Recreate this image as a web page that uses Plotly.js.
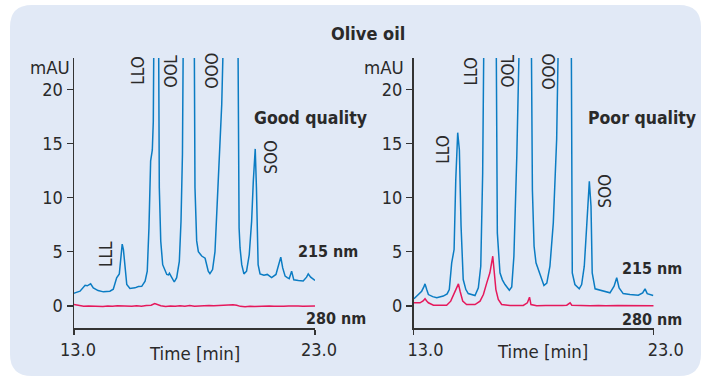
<!DOCTYPE html>
<html><head><meta charset="utf-8">
<script src="https://cdn.plot.ly/plotly-3.0.1.min.js"></script>
<style>html,body{margin:0;padding:0;background:#fff;}#chart{width:702px;height:377px;}</style>
</head><body><div id="chart"></div>
<script>
// ---- Data ----
const goodTime215 = [13.0,13.04,13.25,13.4,13.46,13.55,13.62,13.69,13.8,14.0,14.22,14.49,14.63,14.72,14.77,14.88,14.95,15.0,15.05,15.09,15.15,15.19,15.32,15.53,15.67,15.81,15.95,16.04,16.11,16.18,16.25,16.29,16.33,16.42,16.5,16.54,16.6,16.68,16.85,16.92,16.96,17.05,17.16,17.26,17.37,17.44,17.5,17.55,17.75,17.98,18.02,18.09,18.16,18.3,18.44,18.57,18.64,18.75,18.85,18.94,19.03,19.13,19.2,19.5,19.79,19.85,19.89,19.96,20.05,20.16,20.27,20.37,20.44,20.52,20.57,20.64,20.72,20.88,21.02,21.2,21.38,21.49,21.58,21.66,21.76,21.85,21.93,22.03,22.12,22.31,22.51,22.65,22.72,22.82,23.0];
const good215 = [1.15,1.2,1.35,1.75,1.9,1.85,1.95,2.03,1.66,1.41,1.29,1.35,1.53,2.1,2.59,2.95,4.5,5.7,5.2,4.1,2.8,1.97,1.6,1.66,1.78,1.8,2.27,3.2,7.2,13.4,14.4,17,30,45,30,10.9,5.97,3.8,2.9,2.85,3.0,2.6,2.2,2.6,4.1,7.8,14,30,50,30,10.9,6.0,5.0,4.6,4.4,3.2,2.98,3.35,5.0,9.35,14,18.6,25,50,30,7.2,5.35,3.8,2.95,3.2,4.7,7.8,11.5,14.5,10.9,3.8,2.95,2.83,2.9,2.6,2.9,3.66,4.5,3.5,2.74,2.6,2.5,3.2,2.4,2.34,2.3,2.65,2.95,2.65,2.34];

const goodTime280 = [13.0,13.2,13.4,13.6,13.8,14.0,14.2,14.4,14.6,14.8,15.0,15.2,15.4,15.6,15.8,16.0,16.2,16.35,16.45,16.6,16.8,17.0,17.2,17.4,17.6,17.8,18.0,18.2,18.4,18.6,18.8,19.0,19.2,19.4,19.6,19.75,19.9,20.1,20.3,20.5,20.7,20.9,21.1,21.3,21.5,21.7,21.9,22.1,22.3,22.5,22.7,22.9,23.0];
const good280 = [0.12,0.02,-0.05,-0.02,-0.06,-0.03,-0.07,-0.02,-0.05,0.0,-0.04,-0.02,-0.05,0.0,-0.03,0.02,0.05,0.2,0.12,0.0,-0.06,-0.02,-0.05,0.0,-0.04,0.02,-0.03,0.0,-0.02,0.02,0.0,0.03,0.02,0.05,0.1,0.05,-0.05,-0.08,-0.03,-0.06,-0.02,-0.04,-0.01,-0.03,0.0,-0.04,-0.02,-0.05,-0.02,-0.04,-0.01,-0.03,-0.02];

const poorTime215 = [13.02,13.2,13.34,13.42,13.48,13.55,13.62,13.8,13.97,14.24,14.4,14.49,14.59,14.69,14.76,14.84,14.91,14.98,15.07,15.18,15.28,15.56,15.7,15.8,15.88,15.95,16.2,16.43,16.49,16.6,16.7,16.81,16.99,17.09,17.18,17.3,17.39,17.65,17.89,17.95,18.02,18.1,18.27,18.43,18.55,18.68,18.82,18.96,19.07,19.3,19.56,19.61,19.72,19.9,20.0,20.11,20.21,20.32,20.39,20.44,20.56,20.9,21.18,21.35,21.46,21.56,21.73,22.01,22.36,22.54,22.64,22.73,22.98];
const poor215 = [0.65,1.0,1.35,1.7,2.03,1.5,1.04,0.85,0.74,0.9,1.1,1.5,3.97,5.2,11.7,16.0,14.4,7.35,2.43,1.5,1.13,0.95,1.66,3.66,12.3,30,50,30,6.74,3.05,2.4,1.97,1.44,1.75,4.58,13.8,30,50,30,10.7,5.5,3.97,2.89,1.87,2.1,3.66,7.66,15.4,30,50,30,3.05,1.97,1.57,1.97,3.66,7.35,11.5,9.2,3.05,1.57,1.35,1.2,1.81,2.59,1.66,1.13,1.04,0.98,1.2,1.57,1.13,0.95];

const poorTime280 = [13.02,13.27,13.4,13.48,13.55,13.62,13.83,14.1,14.38,14.55,14.66,14.76,14.87,14.94,15.05,15.21,15.56,15.77,15.91,16.05,16.18,16.3,16.36,16.43,16.53,16.67,17.02,17.3,17.57,17.74,17.83,17.89,18.13,18.5,18.96,19.2,19.38,19.52,19.59,19.9,20.35,20.7,21.0,21.5,22.0,22.5,23.0];
const poor280 = [0.28,0.28,0.45,0.65,0.45,0.28,0.06,0.05,0.06,0.43,1.04,1.57,2.03,1.35,0.43,0.12,0.12,0.43,1.04,2.12,3.05,4.58,3.35,1.5,0.58,0.12,0.03,0.03,0.03,0.28,0.8,0.12,0.0,0.02,0.0,0.03,0.06,0.28,0.06,0.02,0.0,0.03,0.0,0.02,0.0,0.01,0.0];

const yTicks = [0,5,10,15,20];
const xTicks = [13,23];
const xTickText = ['13.0','23.0'];
const goodPeaks = {names:['LLL','LLO','OOL','OOO','SOO'], t:[14.31,15.68,17.05,18.75,21.17], v:[4.74,21.68,21.68,21.68,13.74]};
const poorPeaks = {names:['LLO','LLO','OOL','OOO','SOO'], t:[14.23,15.41,16.95,18.66,20.95], v:[14.43,21.68,21.68,21.68,10.65]};

// ---- Styling ----
const W = 702, H = 377;
const FONT = 'DejaVu Sans Condensed, DejaVu Sans, sans-serif';
const TXT = '#2a2a2a';
const BLUE = '#0b7cc3', RED = '#e5195c', BG = '#e1e9f6';
const px = x => x / W, py = y => 1 - y / H;

const traces = [
  {x: goodTime215, y: good215, xaxis:'x', yaxis:'y', mode:'lines', line:{color:BLUE, width:1.5}, hoverinfo:'skip'},
  {x: goodTime280, y: good280, xaxis:'x', yaxis:'y', mode:'lines', line:{color:RED, width:1.5}, hoverinfo:'skip'},
  {x: poorTime215, y: poor215, xaxis:'x2', yaxis:'y2', mode:'lines', line:{color:BLUE, width:1.5}, hoverinfo:'skip'},
  {x: poorTime280, y: poor280, xaxis:'x2', yaxis:'y2', mode:'lines', line:{color:RED, width:1.5}, hoverinfo:'skip'}
];

const yRange = [-2.05, 22.9];
const xAx = (dom, shift) => ({domain: dom, range:[13,23], showgrid:false, zeroline:false, showline:true,
  linecolor:'#333', linewidth:1.5, ticks:'outside', ticklen:5, tickwidth:1.5, tickcolor:'#333',
  tickvals:xTicks, ticktext:xTickText, tickfont:{family:FONT, size:18, color:TXT},
  ticklabelshift: shift, ticklabelstandoff: 0, fixedrange:true});
const yAx = (anchor) => ({domain:[py(328), py(58)], range:yRange, anchor: anchor, showgrid:false, zeroline:false,
  showline:true, linecolor:'#333', linewidth:1.5, ticks:'outside', ticklen:6, tickwidth:1.5, tickcolor:'#333',
  tickvals:yTicks, tickfont:{family:FONT, size:18, color:TXT}, fixedrange:true});

const annotations = [];
function ann(o){ annotations.push(Object.assign({showarrow:false, font:{family:FONT, size:18.5, color:TXT}}, o)); }
// titles & labels
ann({text:'<b>Olive oil</b>', xref:'paper', yref:'paper', x:px(368), y:py(34), xanchor:'center', yanchor:'middle', font:{family:FONT,size:18,color:TXT}});
ann({text:'mAU', xref:'paper', yref:'paper', x:px(72), y:py(68), xanchor:'right', yanchor:'middle'});
ann({text:'mAU', xref:'paper', yref:'paper', x:px(406), y:py(68), xanchor:'right', yanchor:'middle'});
ann({text:'Time [min]', xref:'paper', yref:'paper', x:px(194), y:py(353), xanchor:'center', yanchor:'middle'});
ann({text:'Time [min]', xref:'paper', yref:'paper', x:px(542), y:py(351), xanchor:'center', yanchor:'middle'});
ann({text:'<b>Good quality</b>', xref:'paper', yref:'paper', x:px(252), y:py(118), xanchor:'left', yanchor:'middle', font:{family:FONT,size:17.5,color:TXT}});
ann({text:'<b>Poor quality</b>', xref:'paper', yref:'paper', x:px(586), y:py(118), xanchor:'left', yanchor:'middle', font:{family:FONT,size:17.5,color:TXT}});
ann({text:'<b>215 nm</b>', xref:'x', yref:'y', x:22.2, y:5.01, xanchor:'left', yanchor:'middle', font:{family:FONT,size:16,color:TXT}});
ann({text:'<b>280 nm</b>', xref:'x', yref:'y', x:22.53, y:-1.17, xanchor:'left', yanchor:'middle', font:{family:FONT,size:16,color:TXT}});
ann({text:'<b>215 nm</b>', xref:'x2', yref:'y2', x:21.6, y:3.44, xanchor:'left', yanchor:'middle', font:{family:FONT,size:16,color:TXT}});
ann({text:'<b>280 nm</b>', xref:'x2', yref:'y2', x:21.6, y:-1.26, xanchor:'left', yanchor:'middle', font:{family:FONT,size:16,color:TXT}});
goodPeaks.names.forEach((n,i)=>ann({text:n, xref:'x', yref:'y', x:goodPeaks.t[i], y:goodPeaks.v[i], textangle:-90, xanchor:'center', yanchor:'middle', font:{family:FONT,size:17,color:TXT}}));
poorPeaks.names.forEach((n,i)=>ann({text:n, xref:'x2', yref:'y2', x:poorPeaks.t[i], y:poorPeaks.v[i], textangle:-90, xanchor:'center', yanchor:'middle', font:{family:FONT,size:17,color:TXT}}));

// rounded background panel
const x0=px(10), x1=px(701), y0=py(376), y1=py(5), rx=22/W, ry=22/H;
const path = `M ${x0+rx},${y1} L ${x1-rx},${y1} Q ${x1},${y1} ${x1},${y1-ry} L ${x1},${y0+ry} Q ${x1},${y0} ${x1-rx},${y0} L ${x0+rx},${y0} Q ${x0},${y0} ${x0},${y0+ry} L ${x0},${y1-ry} Q ${x0},${y1} ${x0+rx},${y1} Z`;

const layout = {
  width:W, height:H, margin:{l:0,r:0,t:0,b:0,pad:0},
  paper_bgcolor:'#ffffff', plot_bgcolor:'rgba(0,0,0,0)', showlegend:false,
  font:{family:FONT, color:TXT},
  xaxis: xAx([px(74), px(315)], 4),
  yaxis: yAx('x'),
  xaxis2: Object.assign(xAx([px(413.5), px(653.7)], 12), {anchor:'y2'}),
  yaxis2: yAx('x2'),
  shapes:[{type:'path', xref:'paper', yref:'paper', path:path, fillcolor:BG, line:{width:0}, layer:'below'}],
  annotations: annotations
};
layout.xaxis.anchor = 'y';
Plotly.newPlot('chart', traces, layout, {staticPlot:true, displayModeBar:false});
</script></body></html>
